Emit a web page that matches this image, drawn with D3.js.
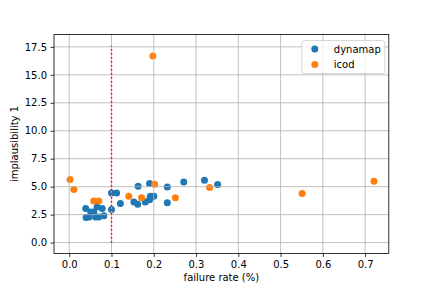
<!DOCTYPE html>
<html>
<head>
<meta charset="utf-8">
<script src="https://cdn.jsdelivr.net/npm/d3@7"></script>
<style>
  body { margin: 0; background: #fff; }
  svg { font-family: "DejaVu Sans", sans-serif; }
</style>
</head>
<body>
<div id="chart"></div>
<script>
// Data
const dynamapRate = [0.039, 0.040, 0.047, 0.051, 0.058, 0.0625, 0.066, 0.070, 0.078, 0.082, 0.100,
                     0.100, 0.112, 0.121, 0.153, 0.162, 0.163, 0.180, 0.190, 0.192, 0.200, 0.190,
                     0.232, 0.232, 0.271, 0.320, 0.351];
const dynamapImpl = [3.04, 2.25, 2.29, 2.73, 2.73, 2.29, 3.18, 2.29, 3.04, 2.40, 2.95,
                     4.44, 4.44, 3.49, 3.63, 3.42, 5.03, 3.63, 3.84, 4.14, 4.14, 5.28,
                     4.97, 3.57, 5.42, 5.57, 5.19];

const icodRate = [0.002, 0.011, 0.058, 0.070, 0.141, 0.171, 0.198, 0.202, 0.251, 0.332, 0.551, 0.721];
const icodImpl = [5.63, 4.74, 3.72, 3.72, 4.14, 4.02, 16.68, 5.21, 4.02, 4.92, 4.38, 5.48];

const threshold = 0.1;
const thresholdSpan = [0, 17.6];

const xTicks = [0.0, 0.1, 0.2, 0.3, 0.4, 0.5, 0.6, 0.7];
const yTicks = [0.0, 2.5, 5.0, 7.5, 10.0, 12.5, 15.0, 17.5];

const seriesNames = ["dynamap", "icod"];
const seriesColors = ["#1f77b4", "#ff7f0e"];

// Layout (matplotlib default axes box for a 6x4in figure at 72 dpi)
const W = 432, H = 288;
const margin = {top: 34.56, right: 43.2, bottom: 34.56, left: 54};
const width = W - margin.left - margin.right;
const height = H - margin.top - margin.bottom;

const svg = d3.select("#chart").append("svg")
    .attr("width", W)
    .attr("height", H);

const g = svg.append("g")
    .attr("transform", `translate(${margin.left},${margin.top})`);

const x = d3.scaleLinear().domain([-0.036, 0.756]).range([0, width]);
const y = d3.scaleLinear().domain([-0.97, 18.6]).range([height, 0]);

// Points
const series = [
    {name: seriesNames[0], color: seriesColors[0], pts: dynamapRate.map((r, i) => [r, dynamapImpl[i]])},
    {name: seriesNames[1], color: seriesColors[1], pts: icodRate.map((r, i) => [r, icodImpl[i]])}
];

series.forEach(s => {
    g.append("g").selectAll("circle")
        .data(s.pts)
        .enter()
        .append("circle")
        .attr("cx", d => x(d[0]))
        .attr("cy", d => y(d[1]))
        .attr("r", 3.5)
        .attr("fill", s.color);
});

// Grid (drawn above the scatter, as matplotlib does)
const grid = g.append("g");
grid.selectAll(".vx").data(xTicks).enter().append("line")
    .attr("x1", d => x(d)).attr("x2", d => x(d))
    .attr("y1", 0).attr("y2", height)
    .attr("stroke", "#b0b0b0").attr("stroke-width", 0.8);
grid.selectAll(".hy").data(yTicks).enter().append("line")
    .attr("y1", d => y(d)).attr("y2", d => y(d))
    .attr("x1", 0).attr("x2", width)
    .attr("stroke", "#b0b0b0").attr("stroke-width", 0.8);

// Threshold line
g.append("line")
    .attr("x1", x(threshold)).attr("x2", x(threshold))
    .attr("y1", y(thresholdSpan[0])).attr("y2", y(thresholdSpan[1]))
    .attr("stroke", "red")
    .attr("stroke-width", 1.5)
    .attr("stroke-dasharray", "1.5,2.5");

// Axes
const xAxis = g.append("g")
    .attr("transform", `translate(0,${height})`)
    .call(d3.axisBottom(x).tickValues(xTicks).tickFormat(d3.format(".1f")).tickSize(3.5).tickPadding(3.5));
const yAxis = g.append("g")
    .call(d3.axisLeft(y).tickValues(yTicks).tickFormat(d3.format(".1f")).tickSize(3.5).tickPadding(3.5));

[xAxis, yAxis].forEach(a => {
    a.select(".domain").remove();
    a.selectAll("line").attr("stroke", "#000").attr("stroke-width", 0.8);
    a.selectAll("text").attr("font-size", 10).attr("fill", "#000")
        .attr("font-family", "DejaVu Sans, sans-serif");
});

// Frame
g.append("rect")
    .attr("width", width).attr("height", height)
    .attr("fill", "none").attr("stroke", "#000").attr("stroke-width", 0.8);

// Axis labels
svg.append("text")
    .attr("x", margin.left + width / 2)
    .attr("y", H - 7)
    .attr("text-anchor", "middle")
    .attr("font-size", 10)
    .text("failure rate (%)");

svg.append("text")
    .attr("transform", `translate(18,${margin.top + height / 2}) rotate(-90)`)
    .attr("text-anchor", "middle")
    .attr("font-size", 10)
    .text("implausibility 1");

// Legend
const legend = g.append("g")
    .attr("transform", `translate(${width - 87},6)`);
legend.append("rect")
    .attr("width", 83).attr("height", 33)
    .attr("rx", 2.5)
    .attr("fill", "#fff").attr("fill-opacity", 0.8)
    .attr("stroke", "#cccccc").attr("stroke-width", 0.8);
series.forEach((s, i) => {
    legend.append("circle")
        .attr("cx", 13).attr("cy", 8.5 + i * 15.5)
        .attr("r", 3.5).attr("fill", s.color);
    legend.append("text")
        .attr("x", 32).attr("y", 8.5 + i * 15.5)
        .attr("dy", "0.35em")
        .attr("font-size", 10)
        .text(s.name);
});
</script>
</body>
</html>
